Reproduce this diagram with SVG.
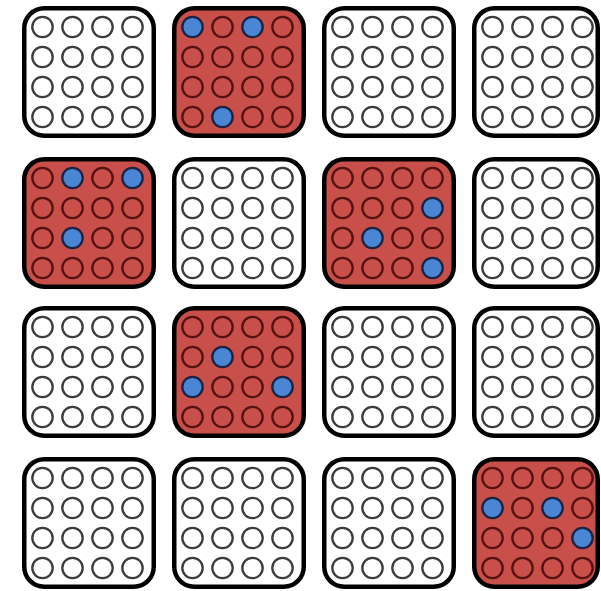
<svg xmlns="http://www.w3.org/2000/svg" width="601" height="591" viewBox="0 0 601 591">
<style>
.w{fill:#ffffff;stroke:#000;stroke-width:4.5}
.r{fill:#c84f4a;stroke:#000;stroke-width:4.5}
.cw{fill:none;stroke:#3c3c3c;stroke-width:2.3}
.cr{fill:none;stroke:#551210;stroke-width:2.3}
.cb{fill:#4a86d4;stroke:#1c2444;stroke-width:2.3}
</style>
<defs>
<g id="gw">
<circle class="cw" cx="20.5" cy="21" r="10.2"/><circle class="cw" cx="50.5" cy="21" r="10.2"/><circle class="cw" cx="80.5" cy="21" r="10.2"/><circle class="cw" cx="110.5" cy="21" r="10.2"/>
<circle class="cw" cx="20.5" cy="51" r="10.2"/><circle class="cw" cx="50.5" cy="51" r="10.2"/><circle class="cw" cx="80.5" cy="51" r="10.2"/><circle class="cw" cx="110.5" cy="51" r="10.2"/>
<circle class="cw" cx="20.5" cy="81" r="10.2"/><circle class="cw" cx="50.5" cy="81" r="10.2"/><circle class="cw" cx="80.5" cy="81" r="10.2"/><circle class="cw" cx="110.5" cy="81" r="10.2"/>
<circle class="cw" cx="20.5" cy="111" r="10.2"/><circle class="cw" cx="50.5" cy="111" r="10.2"/><circle class="cw" cx="80.5" cy="111" r="10.2"/><circle class="cw" cx="110.5" cy="111" r="10.2"/>
</g>
</defs>
<rect width="601" height="591" fill="#ffffff"/>

<g id="n00" transform="translate(22,6)"><rect class="w" x="2.25" y="2.25" width="129.5" height="127.5" rx="20"/><use href="#gw"/></g>
<g id="n01" transform="translate(172,6)"><rect class="r" x="2.25" y="2.25" width="129.5" height="127.5" rx="20"/>
<circle class="cb" cx="20.5" cy="21" r="10.2"/><circle class="cr" cx="50.5" cy="21" r="10.2"/><circle class="cb" cx="80.5" cy="21" r="10.2"/><circle class="cr" cx="110.5" cy="21" r="10.2"/>
<circle class="cr" cx="20.5" cy="51" r="10.2"/><circle class="cr" cx="50.5" cy="51" r="10.2"/><circle class="cr" cx="80.5" cy="51" r="10.2"/><circle class="cr" cx="110.5" cy="51" r="10.2"/>
<circle class="cr" cx="20.5" cy="81" r="10.2"/><circle class="cr" cx="50.5" cy="81" r="10.2"/><circle class="cr" cx="80.5" cy="81" r="10.2"/><circle class="cr" cx="110.5" cy="81" r="10.2"/>
<circle class="cr" cx="20.5" cy="111" r="10.2"/><circle class="cb" cx="50.5" cy="111" r="10.2"/><circle class="cr" cx="80.5" cy="111" r="10.2"/><circle class="cr" cx="110.5" cy="111" r="10.2"/>
</g>
<g id="n02" transform="translate(322,6)"><rect class="w" x="2.25" y="2.25" width="129.5" height="127.5" rx="20"/><use href="#gw"/></g>
<g id="n03" transform="translate(472,6)"><rect class="w" x="2.25" y="2.25" width="123.5" height="127.5" rx="20"/><use href="#gw"/></g>

<g id="n10" transform="translate(22,157)"><rect class="r" x="2.25" y="2.25" width="129.5" height="127.5" rx="20"/>
<circle class="cr" cx="20.5" cy="21" r="10.2"/><circle class="cb" cx="50.5" cy="21" r="10.2"/><circle class="cr" cx="80.5" cy="21" r="10.2"/><circle class="cb" cx="110.5" cy="21" r="10.2"/>
<circle class="cr" cx="20.5" cy="51" r="10.2"/><circle class="cr" cx="50.5" cy="51" r="10.2"/><circle class="cr" cx="80.5" cy="51" r="10.2"/><circle class="cr" cx="110.5" cy="51" r="10.2"/>
<circle class="cr" cx="20.5" cy="81" r="10.2"/><circle class="cb" cx="50.5" cy="81" r="10.2"/><circle class="cr" cx="80.5" cy="81" r="10.2"/><circle class="cr" cx="110.5" cy="81" r="10.2"/>
<circle class="cr" cx="20.5" cy="111" r="10.2"/><circle class="cr" cx="50.5" cy="111" r="10.2"/><circle class="cr" cx="80.5" cy="111" r="10.2"/><circle class="cr" cx="110.5" cy="111" r="10.2"/>
</g>
<g id="n11" transform="translate(172,157)"><rect class="w" x="2.25" y="2.25" width="129.5" height="127.5" rx="20"/><use href="#gw"/></g>
<g id="n12" transform="translate(322,157)"><rect class="r" x="2.25" y="2.25" width="129.5" height="127.5" rx="20"/>
<circle class="cr" cx="20.5" cy="21" r="10.2"/><circle class="cr" cx="50.5" cy="21" r="10.2"/><circle class="cr" cx="80.5" cy="21" r="10.2"/><circle class="cr" cx="110.5" cy="21" r="10.2"/>
<circle class="cr" cx="20.5" cy="51" r="10.2"/><circle class="cr" cx="50.5" cy="51" r="10.2"/><circle class="cr" cx="80.5" cy="51" r="10.2"/><circle class="cb" cx="110.5" cy="51" r="10.2"/>
<circle class="cr" cx="20.5" cy="81" r="10.2"/><circle class="cb" cx="50.5" cy="81" r="10.2"/><circle class="cr" cx="80.5" cy="81" r="10.2"/><circle class="cr" cx="110.5" cy="81" r="10.2"/>
<circle class="cr" cx="20.5" cy="111" r="10.2"/><circle class="cr" cx="50.5" cy="111" r="10.2"/><circle class="cr" cx="80.5" cy="111" r="10.2"/><circle class="cb" cx="110.5" cy="111" r="10.2"/>
</g>
<g id="n13" transform="translate(472,157)"><rect class="w" x="2.25" y="2.25" width="123.5" height="127.5" rx="20"/><use href="#gw"/></g>

<g id="n20" transform="translate(22,306)"><rect class="w" x="2.25" y="2.25" width="129.5" height="127.5" rx="20"/><use href="#gw"/></g>
<g id="n21" transform="translate(172,306)"><rect class="r" x="2.25" y="2.25" width="129.5" height="127.5" rx="20"/>
<circle class="cr" cx="20.5" cy="21" r="10.2"/><circle class="cr" cx="50.5" cy="21" r="10.2"/><circle class="cr" cx="80.5" cy="21" r="10.2"/><circle class="cr" cx="110.5" cy="21" r="10.2"/>
<circle class="cr" cx="20.5" cy="51" r="10.2"/><circle class="cb" cx="50.5" cy="51" r="10.2"/><circle class="cr" cx="80.5" cy="51" r="10.2"/><circle class="cr" cx="110.5" cy="51" r="10.2"/>
<circle class="cb" cx="20.5" cy="81" r="10.2"/><circle class="cr" cx="50.5" cy="81" r="10.2"/><circle class="cr" cx="80.5" cy="81" r="10.2"/><circle class="cb" cx="110.5" cy="81" r="10.2"/>
<circle class="cr" cx="20.5" cy="111" r="10.2"/><circle class="cr" cx="50.5" cy="111" r="10.2"/><circle class="cr" cx="80.5" cy="111" r="10.2"/><circle class="cr" cx="110.5" cy="111" r="10.2"/>
</g>
<g id="n22" transform="translate(322,306)"><rect class="w" x="2.25" y="2.25" width="129.5" height="127.5" rx="20"/><use href="#gw"/></g>
<g id="n23" transform="translate(472,306)"><rect class="w" x="2.25" y="2.25" width="123.5" height="127.5" rx="20"/><use href="#gw"/></g>

<g id="n30" transform="translate(22,457)"><rect class="w" x="2.25" y="2.25" width="129.5" height="127.5" rx="20"/><use href="#gw"/></g>
<g id="n31" transform="translate(172,457)"><rect class="w" x="2.25" y="2.25" width="129.5" height="127.5" rx="20"/><use href="#gw"/></g>
<g id="n32" transform="translate(322,457)"><rect class="w" x="2.25" y="2.25" width="129.5" height="127.5" rx="20"/><use href="#gw"/></g>
<g id="n33" transform="translate(472,457)"><rect class="r" x="2.25" y="2.25" width="123.5" height="127.5" rx="20"/>
<circle class="cr" cx="20.5" cy="21" r="10.2"/><circle class="cr" cx="50.5" cy="21" r="10.2"/><circle class="cr" cx="80.5" cy="21" r="10.2"/><circle class="cr" cx="110.5" cy="21" r="10.2"/>
<circle class="cb" cx="20.5" cy="51" r="10.2"/><circle class="cr" cx="50.5" cy="51" r="10.2"/><circle class="cb" cx="80.5" cy="51" r="10.2"/><circle class="cr" cx="110.5" cy="51" r="10.2"/>
<circle class="cr" cx="20.5" cy="81" r="10.2"/><circle class="cr" cx="50.5" cy="81" r="10.2"/><circle class="cr" cx="80.5" cy="81" r="10.2"/><circle class="cb" cx="110.5" cy="81" r="10.2"/>
<circle class="cr" cx="20.5" cy="111" r="10.2"/><circle class="cr" cx="50.5" cy="111" r="10.2"/><circle class="cr" cx="80.5" cy="111" r="10.2"/><circle class="cr" cx="110.5" cy="111" r="10.2"/>
</g>
<g id="connectors"></g>
</svg>
